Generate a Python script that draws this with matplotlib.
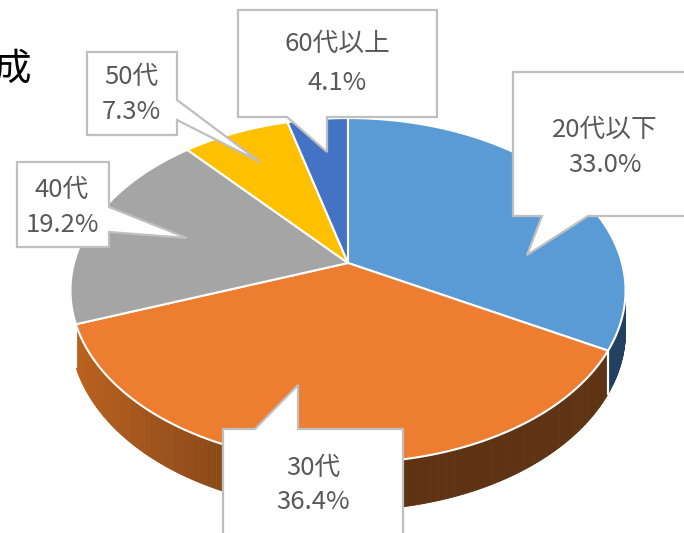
import matplotlib
matplotlib.use("Agg")
import matplotlib.pyplot as plt
import numpy as np
from matplotlib.patches import Polygon

plt.rcParams['font.family'] = ['Noto Sans CJK JP', 'DejaVu Sans']

# data
labels = ["20代以下", "30代", "40代", "50代", "60代以上"]
shares = [33.0, 36.4, 19.2, 7.3, 4.1]
top_colors = ["#5B9BD5", "#ED7D31", "#A5A5A5", "#FFC000", "#4472C4"]
side_colors = ["#22405F", None, "#6B6B6B", "#8C6A00", "#243C6A"]

# pie geometry in pixel space (3D tilted, with a bit of perspective)
CX, CY = 348, 263
A, B = 274, 168
P = 0.159
H = 40


def proj(theta, drop=0.0):
    t = np.radians(theta)
    u = np.sin(t)
    w = -np.cos(t)
    s = 1.0 / (1.0 - P * w)
    return CX + A * u * s, CY + B * w * s + drop * s


def orange_side(theta):
    u = np.sin(np.radians(theta))
    f = np.clip((0.1 - u) / 1.1, 0, 1)
    light = np.array([0xC2, 0x65, 0x20]) / 255
    dark = np.array([0x5E, 0x33, 0x14]) / 255
    return dark + (light - dark) * f


fig = plt.figure(figsize=(6.84, 5.33), dpi=100)
ax = fig.add_axes([0, 0, 1, 1])
ax.set_xlim(0, 684)
ax.set_ylim(533, 0)
ax.axis("off")

bounds = np.concatenate([[0], np.cumsum(shares)]) / sum(shares) * 360

# sides (front part only)
for i in range(len(shares)):
    a0 = max(bounds[i], 90)
    a1 = min(bounds[i + 1], 250)
    if a1 <= a0:
        continue
    angs = np.linspace(a0, a1, max(int((a1 - a0) * 2), 2))
    for k in range(len(angs) - 1):
        p1 = proj(angs[k])
        p2 = proj(angs[k + 1])
        p3 = proj(angs[k + 1], H)
        p4 = proj(angs[k], H)
        c = orange_side(angs[k]) if i == 1 else side_colors[i]
        ax.add_patch(Polygon([p1, p2, p3, p4], closed=True, facecolor=c,
                             edgecolor=c, lw=0.6, zorder=1))
    # white seam between side pieces
    for a in (bounds[i], bounds[i + 1]):
        if 90 < a < 250:
            x0, y0 = proj(a)
            x1, y1 = proj(a, H)
            ax.plot([x0, x1], [y0, y1], color="white", lw=1.5, zorder=2)

# top surface
for i in range(len(shares)):
    angs = np.linspace(bounds[i], bounds[i + 1], 200)
    pts = [(CX, CY)] + [proj(a) for a in angs]
    ax.add_patch(Polygon(pts, closed=True, facecolor=top_colors[i],
                         edgecolor="white", lw=1.5, joinstyle="round", zorder=3))

# callouts: box (x0, y0, x1, y1), pointer edge, base range, tip, text centre
callouts = [
    ((513, 72, 700, 216), "bottom", (542, 588), (527, 255), (605, 130, 165)),
    ((223, 429, 403, 560), "top", (255, 298), (298, 385), (313, 468, 502)),
    ((17, 162, 109, 247), "right", (207, 232), (187, 238), (62, 190, 225)),
    ((87, 52, 177, 135), "right", (100, 120), (260, 162), (131, 77, 112)),
    ((238, 10, 437, 117), "bottom", (287, 327), (327, 152), (337, 44, 83)),
]


def callout_poly(box, edge, base, tip):
    x0, y0, x1, y1 = box
    b0, b1 = base
    if edge == "bottom":
        return [(x0, y0), (x1, y0), (x1, y1), (b1, y1), tip, (b0, y1), (x0, y1)]
    if edge == "top":
        return [(x0, y0), (b0, y0), tip, (b1, y0), (x1, y0), (x1, y1), (x0, y1)]
    if edge == "right":
        return [(x0, y0), (x1, y0), (x1, b0), tip, (x1, b1), (x1, y1), (x0, y1)]
    return [(x0, y0), (x1, y0), (x1, y1), (x0, y1), (x0, b1), tip, (x0, b0)]


for lab, val, (box, edge, base, tip, (tx, ty1, ty2)) in zip(labels, shares, callouts):
    ax.add_patch(Polygon(callout_poly(box, edge, base, tip), closed=True,
                         facecolor="white", edgecolor="#BFBFBF", lw=1.6,
                         joinstyle="miter", zorder=5))
    ax.text(tx, ty1, lab, ha="center", va="center", fontsize=18.5,
            color="#595959", zorder=6)
    ax.text(tx, ty2, f"{val:.1f}%", ha="center", va="center", fontsize=18.5,
            color="#595959", zorder=6)

# title, cut off at the left edge of the picture as in the original
ax.text(31, 69, "成", ha="right", va="center", fontsize=27, color="black")

fig.savefig("out.png", dpi=100)
